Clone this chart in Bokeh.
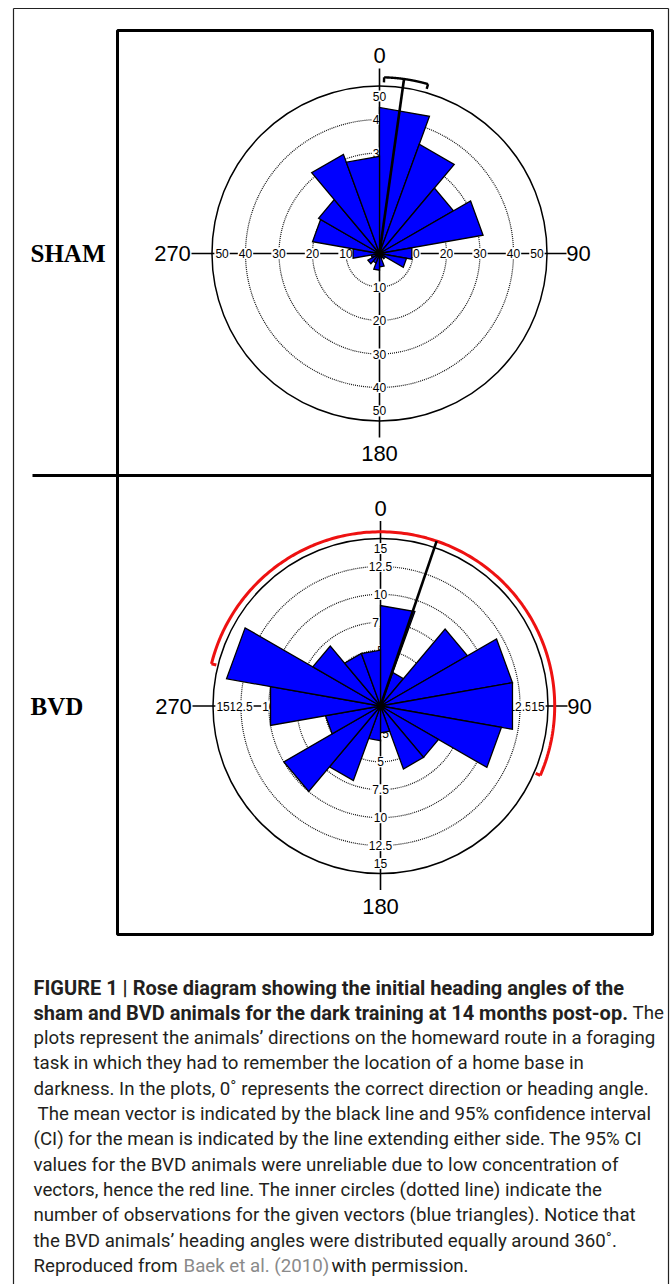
import numpy as np
from bokeh.plotting import figure
from bokeh.models import Range1d
from bokeh.embed import file_html
from bokeh.resources import INLINE
from bokeh.core.properties import value

# ---------------- data ----------------
bin_edges_deg = list(range(0, 361, 20))
sham_counts = [43.6, 34.7, 25.5, 31.4, 9.8, 8.2, 2.0, 1.5, 4.0, 5.0, 3.0, 4.0, 2.5, 8.0, 20.3, 21.0, 31.5, 29.0]
bvd_counts = [9.0, 3.2, 9.0, 12.0, 12.0, 11.0, 6.0, 6.0, 2.4, 3.1, 7.1, 10.0, 5.0, 10.0, 14.0, 7.0, 5.0, 5.0]
sham_rings = [10, 20, 30, 40]
sham_rmax = 50
bvd_rings = [2.5, 5, 7.5, 10, 12.5]
bvd_rmax = 15
sham_mean_deg = 8.0
sham_ci_deg = [1.5, 16.0]
bvd_mean_deg = 18.8
bvd_ci_deg = [284.0, 473.5]
direction_labels = ["0", "90", "180", "270"]
panel_names = ["SHAM", "BVD"]

caption_lines = [
    [("FIGURE 1 | Rose diagram showing the initial heading angles of the", "bold", "#231f20")],
    [("sham and BVD animals for the dark training at 14 months post-op.", "bold", "#231f20"),
     ("The", "normal", "#231f20")],
    [("plots represent the animals\u2019 directions on the homeward route in a foraging", "normal", "#231f20")],
    [("task in which they had to remember the location of a home base in", "normal", "#231f20")],
    [("darkness. In the plots, 0\u02da represents the correct direction or heading angle.", "normal", "#231f20")],
    [("The mean vector is indicated by the black line and 95% confidence interval", "normal", "#231f20")],
    [("(CI) for the mean is indicated by the line extending either side. The 95% CI", "normal", "#231f20")],
    [("values for the BVD animals were unreliable due to low concentration of", "normal", "#231f20")],
    [("vectors, hence the red line. The inner circles (dotted line) indicate the", "normal", "#231f20")],
    [("number of observations for the given vectors (blue triangles). Notice that", "normal", "#231f20")],
    [("the BVD animals\u2019 heading angles were distributed equally around 360\u02da.", "normal", "#231f20")],
    [("Reproduced from", "normal", "#231f20"), ("Baek et al. (2010)", "normal", "#8a8a8a"),
     ("with permission.", "normal", "#231f20")],
]
caption_x = [[33], [33, 632], [33], [33], [33], [37], [33], [33], [33], [33], [33], [33, 183, 331]]

# ---------------- figure ----------------
W, H = 671, 1284
p = figure(width=W, height=H, x_range=Range1d(0, W), y_range=Range1d(H, 0),
           output_backend="svg", toolbar_location=None, min_border=0,
           x_axis_type=None, y_axis_type=None)
p.grid.visible = False
p.outline_line_color = None
p.background_fill_color = "white"
p.border_fill_color = "white"

SANS = value("Liberation Sans")

# frames
p.segment(x0=[13, 13, 668], y0=[8, 8, 8], x1=[13, 668, 668], y1=[1284, 8, 1284],
          line_color="#222222", line_width=1.2)
p.quad(left=[117], right=[652], top=[30], bottom=[934], fill_color=None,
       line_color="black", line_width=3)
p.segment(x0=[32], y0=[475], x1=[652], y1=[475], line_color="black", line_width=3)

R = 167.5


def pol(cx, cy, r, deg):
    t = np.radians(deg)
    return cx + r * np.sin(t), cy - r * np.cos(t)


def rose(cx, cy, counts, rings, rmax, mean_deg, ci_deg, ci_r, ci_color, ci_w):
    s = R / rmax
    # dotted rings
    p.circle(x=[cx] * len(rings), y=[cy] * len(rings), radius=[v * s for v in rings],
             fill_color=None, line_color="#111111", line_dash="1 1", line_width=1.2)
    # axis cross
    p.segment(x0=[cx, cx - 188], y0=[cy - 185, cy], x1=[cx, cx + 187], y1=[cy + 184, cy],
              line_color="black", line_width=1.6)
    # radial tick labels
    labs = [f"{v:g}" for v in rings] + [f"{rmax:g}"]
    rads = [v * s for v in rings] + [R * 0.94]
    tx, ty, tt = [], [], []
    for d in [0, 90, 180, 270]:
        for lab, rr in zip(labs, rads):
            x, y = pol(cx, cy, rr, d)
            tx.append(x); ty.append(y); tt.append(lab)
    p.text(x=tx, y=ty, text=tt, text_font=SANS, text_font_size="12px",
           text_align="center", text_baseline="middle", text_color="black",
           background_fill_color="white", padding=1)
    # bars (triangles)
    xs, ys = [], []
    for i, c in enumerate(counts):
        a0, a1 = bin_edges_deg[i], bin_edges_deg[i + 1]
        x0, y0 = pol(cx, cy, c * s, a0)
        x1, y1 = pol(cx, cy, c * s, a1)
        xs.append([cx, x0, x1]); ys.append([cy, y0, y1])
    p.patches(xs, ys, fill_color="#0000ff", line_color="black", line_width=1.3,
              line_join="miter")
    # outer circle
    p.circle(x=[cx], y=[cy], radius=R, fill_color=None, line_color="black", line_width=1.5)
    # CI arc
    aa = np.linspace(ci_deg[0], ci_deg[1], 200)
    ax, ay = pol(cx, cy, ci_r * s, aa)
    p.line(ax, ay, line_color=ci_color, line_width=ci_w)
    ex, ey = [], []
    for a in ci_deg:
        xo, yo = pol(cx, cy, ci_r * s, a)
        xi, yi = pol(cx, cy, ci_r * s - 5, a)
        ex.append([xo, xi]); ey.append([yo, yi])
    p.multi_line(ex, ey, line_color=ci_color, line_width=ci_w)
    # mean vector
    mx, my = pol(cx, cy, ci_r * s, mean_deg)
    p.line([cx, mx], [cy, my], line_color="black", line_width=2.6)
    # direction labels
    dx = [cx, cx + 199, cx, cx - 207]
    dy = [cy - 198, cy, cy + 200, cy]
    p.text(x=dx, y=dy, text=direction_labels, text_font=SANS, text_font_size="22px",
           text_align="center", text_baseline="middle", text_color="black")


rose(379, 253, sham_counts, sham_rings, sham_rmax, sham_mean_deg, sham_ci_deg, 52.6, "black", 2.4)
rose(380, 705.5, bvd_counts, bvd_rings, bvd_rmax, bvd_mean_deg, bvd_ci_deg, 15.6, "#ee1111", 3)

# panel names
p.text(x=[30, 30], y=[253, 706], text=panel_names, text_font=value("Liberation Serif"),
       text_font_style="bold", text_font_size="25px", text_align="left",
       text_baseline="middle", text_color="black")

# caption
for i, segs in enumerate(caption_lines):
    y = 987 + i * 25.3
    for (txt, style, col), x in zip(segs, caption_x[i]):
        size = "20px" if style == "bold" else "18.7px"
        p.text(x=[x], y=[y], text=[txt], text_font=value("Roboto"), text_font_style=style,
               text_font_size=size, text_align="left", text_baseline="middle",
               text_color=col)

open("out.html", "w").write(file_html(p, INLINE))
